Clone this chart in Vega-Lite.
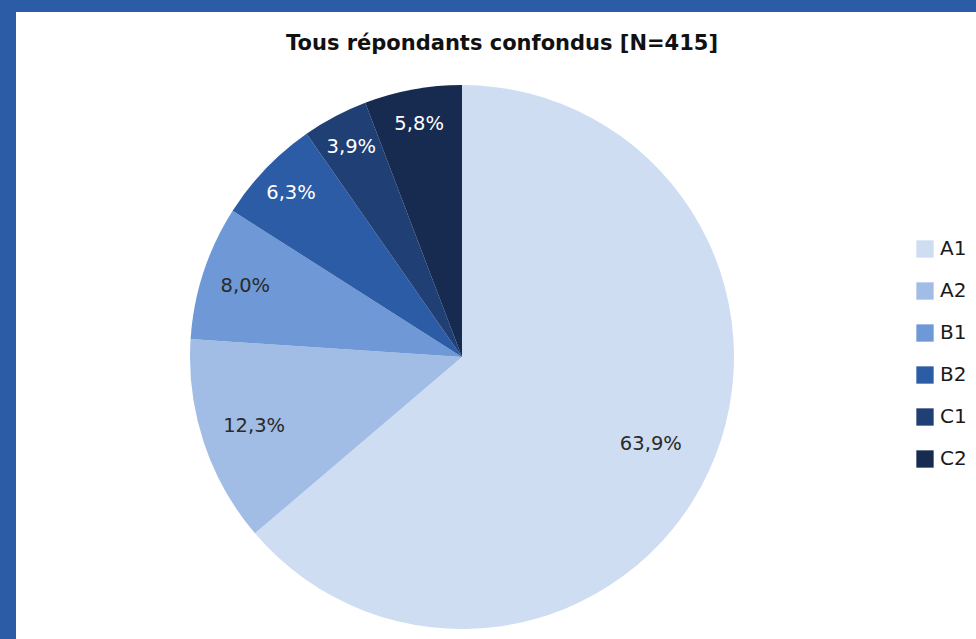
{
  "$schema": "https://vega.github.io/schema/vega-lite/v6.json",
  "autosize": "none",
  "width": 960,
  "height": 627,
  "padding": {"left": 16, "top": 12, "right": 0, "bottom": 0},
  "background": "#2b5ca5",
  "config": {
    "view": {"fill": "white", "stroke": null},
    "font": "DejaVu Sans"
  },
  "title": {
    "text": "Tous répondants confondus [N=415]",
    "frame": "group",
    "anchor": "middle",
    "baseline": "alphabetic",
    "offset": -59,
    "dx": 6,
    "fontSize": 21,
    "fontWeight": "bold",
    "font": "DejaVu Sans",
    "color": "#111111"
  },
  "data": {
    "values": [
      {"niveau": "A1", "pct": 63.9, "label": "63,9%"},
      {"niveau": "A2", "pct": 12.3, "label": "12,3%"},
      {"niveau": "B1", "pct": 8.0, "label": "8,0%"},
      {"niveau": "B2", "pct": 6.3, "label": "6,3%"},
      {"niveau": "C1", "pct": 3.9, "label": "3,9%"},
      {"niveau": "C2", "pct": 5.8, "label": "5,8%"}
    ]
  },
  "encoding": {
    "theta": {"field": "pct", "type": "quantitative", "stack": true},
    "order": {"field": "niveau", "type": "ordinal", "sort": "ascending"},
    "x": {"value": 446},
    "y": {"value": 345}
  },
  "layer": [
    {
      "mark": {"type": "arc", "outerRadius": 272, "stroke": null},
      "encoding": {
        "color": {
          "field": "niveau",
          "type": "nominal",
          "scale": {
            "domain": ["A1", "A2", "B1", "B2", "C1", "C2"],
            "range": ["#cfddf2", "#a1bde6", "#6e99d6", "#2b5ca5", "#203f75", "#162b4f"]
          },
          "legend": {
            "title": null,
            "orient": "none",
            "legendX": 899,
            "legendY": 227,
            "symbolType": "square",
            "symbolSize": 300,
            "symbolStrokeWidth": 0,
            "labelFontSize": 20,
            "labelFont": "DejaVu Sans",
            "labelColor": "#1a1a1a",
            "rowPadding": 22,
            "labelOffset": 5
          }
        }
      }
    },
    {
      "mark": {"type": "text", "fontSize": 19.5, "font": "DejaVu Sans", "align": "center", "baseline": "middle", "radius": 208, "color": "#2a2a2a"},
      "encoding": {
        "text": {"field": "label", "type": "nominal"},
        "opacity": {"condition": {"test": "datum.niveau === 'A1'", "value": 1}, "value": 0}
      }
    },
    {
      "mark": {"type": "text", "fontSize": 19.5, "font": "DejaVu Sans", "align": "center", "baseline": "middle", "radius": 219, "color": "#2a2a2a"},
      "encoding": {
        "text": {"field": "label", "type": "nominal"},
        "opacity": {"condition": {"test": "datum.niveau === 'A2'", "value": 1}, "value": 0}
      }
    },
    {
      "mark": {"type": "text", "fontSize": 19.5, "font": "DejaVu Sans", "align": "center", "baseline": "middle", "radius": 228, "color": "#2a2a2a"},
      "encoding": {
        "text": {"field": "label", "type": "nominal"},
        "opacity": {"condition": {"test": "datum.niveau === 'B1'", "value": 1}, "value": 0}
      }
    },
    {
      "mark": {"type": "text", "fontSize": 19.5, "font": "DejaVu Sans", "align": "center", "baseline": "middle", "radius": 237, "color": "#ffffff"},
      "encoding": {
        "text": {"field": "label", "type": "nominal"},
        "opacity": {"condition": {"test": "indexof(['B2','C1','C2'], datum.niveau) >= 0", "value": 1}, "value": 0}
      }
    }
  ]
}
